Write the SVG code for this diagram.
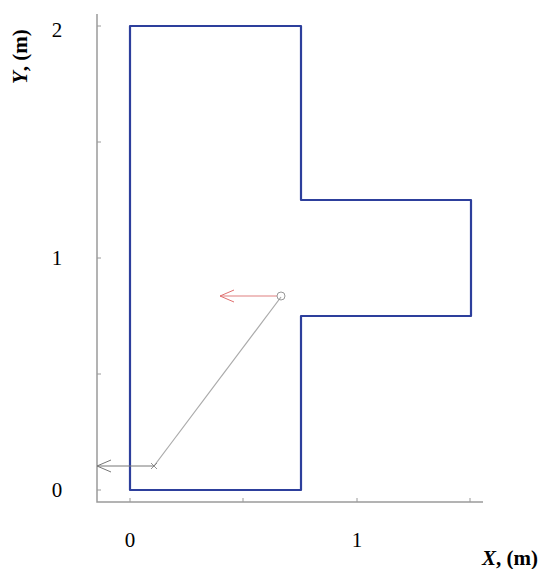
<svg xmlns="http://www.w3.org/2000/svg" width="541" height="569" viewBox="0 0 541 569">
<style>
.lbl{font-family:"Liberation Serif",serif;font-size:21px;fill:#000}
.ax{stroke:#9a9a9a;stroke-width:1.5;fill:none}
.tick{stroke:#9a9a9a;stroke-width:1}
</style>
<defs>
<marker id="hg" markerWidth="16" markerHeight="14" refX="15" refY="7" orient="auto" markerUnits="userSpaceOnUse">
<path d="M1,1 L15,7 L1,13" fill="none" stroke="#777" stroke-width="1"/>
</marker>
<marker id="hr" markerWidth="16" markerHeight="14" refX="15" refY="7" orient="auto" markerUnits="userSpaceOnUse">
<path d="M1,1 L15,7 L1,13" fill="none" stroke="#e07070" stroke-width="1"/>
</marker>
</defs>
<rect width="541" height="569" fill="#fff"/>
<g id="axes">
<path class="ax" d="M97,14 V502 H483"/>
<path class="tick" d="M130,502 v-4 M243,502 v-4 M357,502 v-4 M470,502 v-4 M97,490 h4 M97,374 h4 M97,258 h4 M97,142 h4 M97,26 h4"/>
</g>
<g id="outline">
<path d="M130,26 H301 V200 H471 V316 H301 V490 H130 Z" fill="none" stroke="#2d3f9c" stroke-width="2.2" stroke-linejoin="round"/>
</g>
<g id="connectors">
<line x1="281" y1="297" x2="154" y2="466" stroke="#aaa" stroke-width="1.2"/>
<line x1="154" y1="466" x2="97" y2="466" stroke="#777" stroke-width="1" marker-end="url(#hg)"/>
<line x1="277" y1="296" x2="220" y2="296" stroke="#e08080" stroke-width="1.2" marker-end="url(#hr)"/>
<circle cx="281" cy="296" r="4" fill="none" stroke="#999" stroke-width="1"/>
<path d="M151,463 l6,6 M157,463 l-6,6" stroke="#777" stroke-width="0.8"/>
</g>
<g id="labels">
<text class="lbl" x="57" y="37" text-anchor="middle">2</text>
<text class="lbl" x="57" y="265" text-anchor="middle">1</text>
<text class="lbl" x="57" y="497" text-anchor="middle">0</text>
<text class="lbl" x="130" y="547" text-anchor="middle">0</text>
<text class="lbl" x="357" y="547" text-anchor="middle">1</text>
<text class="lbl" x="538" y="565" text-anchor="end" font-weight="bold"><tspan font-style="italic">X</tspan>, (m)</text>
<text class="lbl" transform="translate(27,84) rotate(-90)" font-weight="bold"><tspan font-style="italic">Y</tspan>, (m)</text>
</g>
</svg>
